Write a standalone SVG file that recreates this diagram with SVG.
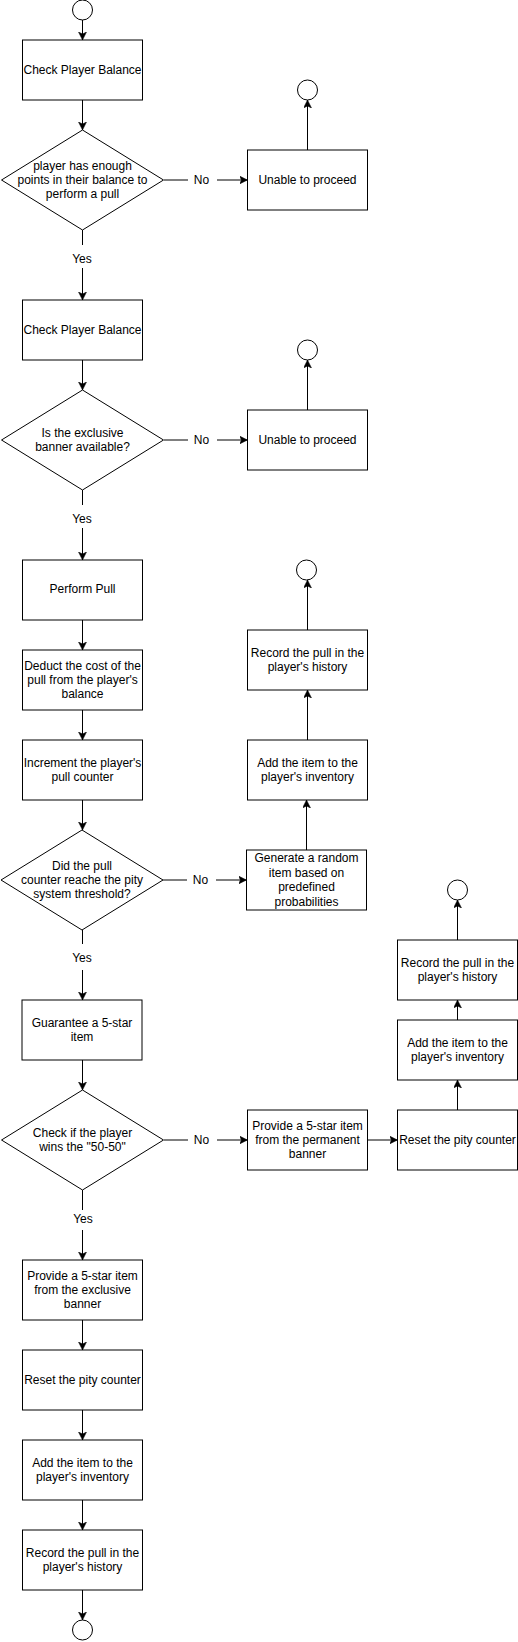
<svg xmlns="http://www.w3.org/2000/svg" width="518" height="1642" viewBox="0 0 518 1642">
<style>
.box{fill:#fff;stroke:#000;stroke-width:1}
.term{fill:#fff;stroke:#000;stroke-width:1}
.edge{fill:none;stroke:#000;stroke-width:1}
.t{font-family:"Liberation Sans",Arial,Helvetica,sans-serif;font-size:12px;fill:#000;text-anchor:middle;dominant-baseline:central}
.lbg{fill:#fff;stroke:none}
</style>
<defs>
<marker id="arr" markerUnits="userSpaceOnUse" markerWidth="10" markerHeight="10" refX="8" refY="4" orient="auto">
<path d="M0,0 L8,4 L0,8 L2,4 Z" fill="#000" stroke="#000" stroke-width="0.5"/>
</marker>
</defs>
<rect width="518" height="1642" fill="#fff"/>

<g id="connectors">
<!-- left column -->
<path class="edge" d="M82.5,20 V40" marker-end="url(#arr)"/>
<path class="edge" d="M82.5,100 V130" marker-end="url(#arr)"/>
<path class="edge" d="M82.5,230 V300" marker-end="url(#arr)"/>
<path class="edge" d="M82.5,360 V390" marker-end="url(#arr)"/>
<path class="edge" d="M82.5,490 V560" marker-end="url(#arr)"/>
<path class="edge" d="M82.5,620 V650" marker-end="url(#arr)"/>
<path class="edge" d="M82.5,710 V740" marker-end="url(#arr)"/>
<path class="edge" d="M82.5,800 V830" marker-end="url(#arr)"/>
<path class="edge" d="M82.5,930 V1000" marker-end="url(#arr)"/>
<path class="edge" d="M82.5,1060 V1090" marker-end="url(#arr)"/>
<path class="edge" d="M82.5,1190 V1260" marker-end="url(#arr)"/>
<path class="edge" d="M82.5,1320 V1350" marker-end="url(#arr)"/>
<path class="edge" d="M82.5,1410 V1440" marker-end="url(#arr)"/>
<path class="edge" d="M82.5,1500 V1530" marker-end="url(#arr)"/>
<path class="edge" d="M82.5,1590 V1620" marker-end="url(#arr)"/>
<!-- No branches -->
<path class="edge" d="M164,180 H247.5" marker-end="url(#arr)"/>
<path class="edge" d="M164,440 H247.5" marker-end="url(#arr)"/>
<path class="edge" d="M163,880 H246.5" marker-end="url(#arr)"/>
<path class="edge" d="M164,1140 H247.5" marker-end="url(#arr)"/>
<!-- right ups -->
<path class="edge" d="M307.5,150 V100" marker-end="url(#arr)"/>
<path class="edge" d="M307.5,410 V360" marker-end="url(#arr)"/>
<path class="edge" d="M306.5,850 V800" marker-end="url(#arr)"/>
<path class="edge" d="M307.5,740 V690" marker-end="url(#arr)"/>
<path class="edge" d="M307.5,630 V580" marker-end="url(#arr)"/>
<path class="edge" d="M367.5,1140 H397.5" marker-end="url(#arr)"/>
<path class="edge" d="M457.5,1110 V1080" marker-end="url(#arr)"/>
<path class="edge" d="M457.5,1020 V1000" marker-end="url(#arr)"/>
<path class="edge" d="M457.5,940 V900" marker-end="url(#arr)"/>
<!-- labels -->
<rect class="lbg" x="188" y="172" width="29" height="16"/><text class="t" x="201.5" y="180">No</text>
<rect class="lbg" x="188" y="432" width="29" height="16"/><text class="t" x="201.5" y="440">No</text>
<rect class="lbg" x="187" y="872" width="29" height="16"/><text class="t" x="200.5" y="880">No</text>
<rect class="lbg" x="188" y="1132" width="29" height="16"/><text class="t" x="201.5" y="1140">No</text>
<rect class="lbg" x="68" y="245" width="29" height="23"/><text class="t" x="82" y="259">Yes</text>
<rect class="lbg" x="68" y="505" width="29" height="23"/><text class="t" x="82" y="519">Yes</text>
<rect class="lbg" x="68" y="944" width="29" height="26"/><text class="t" x="82" y="958">Yes</text>
<rect class="lbg" x="68" y="1210" width="29" height="20"/><text class="t" x="83" y="1219">Yes</text>
</g>

<g id="start"><circle class="term" cx="82.5" cy="10" r="10"/></g>
<g id="checkBalance1"><rect class="box" x="22.5" y="40" width="120" height="60"/><text class="t" x="82.5" y="70">Check Player Balance</text></g>
<g id="enoughPoints"><path class="box" d="M82.5,130 L163.5,180 L82.5,230 L1.5,180 Z"/><text class="t" x="82.5" y="165.7">player has enough</text><text class="t" x="82.5" y="180">points in their balance to</text><text class="t" x="82.5" y="194.3">perform a pull</text></g>
<g id="unable1"><rect class="box" x="247.5" y="150" width="120" height="60"/><text class="t" x="307.5" y="180">Unable to proceed</text></g>
<g id="end1"><circle class="term" cx="307.5" cy="90" r="10"/></g>

<g id="checkBalance2"><rect class="box" x="22.5" y="300" width="120" height="60"/><text class="t" x="82.5" y="330">Check Player Balance</text></g>
<g id="bannerAvailable"><path class="box" d="M82.5,390 L163.5,440 L82.5,490 L1.5,440 Z"/><text class="t" x="82.5" y="433">Is the exclusive</text><text class="t" x="82.5" y="447">banner available?</text></g>
<g id="unable2"><rect class="box" x="247.5" y="410" width="120" height="60"/><text class="t" x="307.5" y="440">Unable to proceed</text></g>
<g id="end2"><circle class="term" cx="307.5" cy="350" r="10"/></g>

<g id="performPull"><rect class="box" x="22.5" y="560" width="120" height="60"/><text class="t" x="82.5" y="589">Perform Pull</text></g>
<g id="deduct"><rect class="box" x="22.5" y="650" width="120" height="60"/><text class="t" x="82.5" y="666">Deduct the cost of the</text><text class="t" x="82.5" y="680">pull from the player's</text><text class="t" x="82.5" y="694">balance</text></g>
<g id="increment"><rect class="box" x="22.5" y="740" width="120" height="60"/><text class="t" x="82.5" y="763">Increment the player's</text><text class="t" x="82.5" y="777">pull counter</text></g>
<g id="pityThreshold"><path class="box" d="M82,830 L163,880 L82,930 L1,880 Z"/><text class="t" x="82" y="866">Did the pull</text><text class="t" x="82" y="880">counter reache the pity</text><text class="t" x="82" y="894">system threshold?</text></g>
<g id="generateRandom"><rect class="box" x="246.5" y="850" width="120" height="60"/><text class="t" x="306.5" y="858">Generate a random</text><text class="t" x="306.5" y="872.5">item based on</text><text class="t" x="306.5" y="887">predefined</text><text class="t" x="306.5" y="901.5">probabilities</text></g>
<g id="addItem1"><rect class="box" x="247.5" y="740" width="120" height="60"/><text class="t" x="307.5" y="763">Add the item to the</text><text class="t" x="307.5" y="777">player's inventory</text></g>
<g id="record1"><rect class="box" x="247.5" y="630" width="120" height="60"/><text class="t" x="307.5" y="653">Record the pull in the</text><text class="t" x="307.5" y="667">player's history</text></g>
<g id="end3"><circle class="term" cx="306.5" cy="570" r="10"/></g>

<g id="guarantee"><rect class="box" x="22" y="1000" width="120" height="60"/><text class="t" x="82" y="1023">Guarantee a 5-star</text><text class="t" x="82" y="1037">item</text></g>
<g id="fiftyFifty"><path class="box" d="M82.5,1090 L163.5,1140 L82.5,1190 L1.5,1140 Z"/><text class="t" x="82.5" y="1133">Check if the player</text><text class="t" x="82.5" y="1147">wins the "50-50"</text></g>
<g id="providePermanent"><rect class="box" x="247.5" y="1110" width="120" height="60"/><text class="t" x="307.5" y="1126">Provide a 5-star item</text><text class="t" x="307.5" y="1140">from the permanent</text><text class="t" x="307.5" y="1154">banner</text></g>
<g id="resetPity2"><rect class="box" x="397.5" y="1110" width="120" height="60"/><text class="t" x="457.5" y="1140">Reset the pity counter</text></g>
<g id="addItem2"><rect class="box" x="397.5" y="1020" width="120" height="60"/><text class="t" x="457.5" y="1043">Add the item to the</text><text class="t" x="457.5" y="1057">player's inventory</text></g>
<g id="record2"><rect class="box" x="397.5" y="940" width="120" height="60"/><text class="t" x="457.5" y="963">Record the pull in the</text><text class="t" x="457.5" y="977">player's history</text></g>
<g id="end4"><circle class="term" cx="457.5" cy="890" r="10"/></g>

<g id="provideExclusive"><rect class="box" x="22.5" y="1260" width="120" height="60"/><text class="t" x="82.5" y="1276">Provide a 5-star item</text><text class="t" x="82.5" y="1290">from the exclusive</text><text class="t" x="82.5" y="1304">banner</text></g>
<g id="resetPity1"><rect class="box" x="22.5" y="1350" width="120" height="60"/><text class="t" x="82.5" y="1380">Reset the pity counter</text></g>
<g id="addItem3"><rect class="box" x="22.5" y="1440" width="120" height="60"/><text class="t" x="82.5" y="1463">Add the item to the</text><text class="t" x="82.5" y="1477">player's inventory</text></g>
<g id="record3"><rect class="box" x="22.5" y="1530" width="120" height="60"/><text class="t" x="82.5" y="1553">Record the pull in the</text><text class="t" x="82.5" y="1567">player's history</text></g>
<g id="end5"><circle class="term" cx="82.5" cy="1630" r="10"/></g>
</svg>
